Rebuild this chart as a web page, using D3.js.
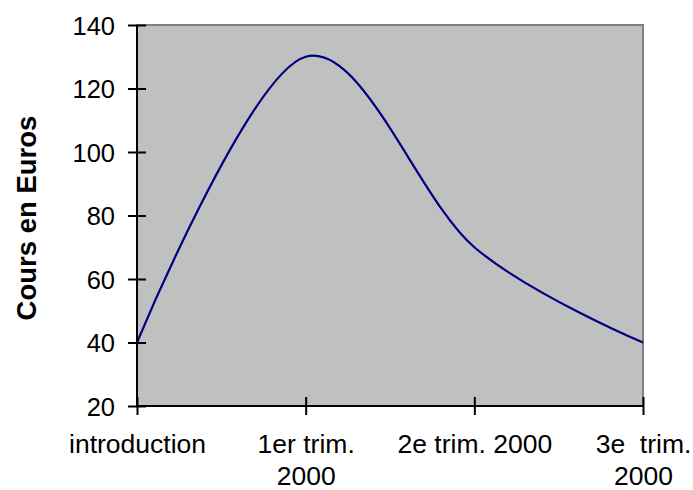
<!DOCTYPE html>
<html><head><meta charset="utf-8">
<script src="https://cdn.jsdelivr.net/npm/d3@7"></script>
<style>body{margin:0;background:#fff}svg{display:block}text{font-family:"Liberation Sans",Arial,sans-serif}</style>
</head><body>
<script>
const categories = [["introduction"], ["1er trim.", "2000"], ["2e trim. 2000"], ["3e  trim.", "2000"]];
const values = [40, 130, 70, 40];
const yTicks = [20, 40, 60, 80, 100, 120, 140];
const yTitle = "Cours en Euros";

const W = 693, H = 490;
const m = {left: 137, right: 50, top: 25, bottom: 84};
const svg = d3.select("body").append("svg").attr("width", W).attr("height", H);

const x = d3.scalePoint().domain(d3.range(categories.length)).range([m.left, 643]);
const y = d3.scaleLinear().domain([20, 140]).range([406, m.top]);

// plot area
svg.append("rect").attr("x", x.range()[0]).attr("y", y(140))
  .attr("width", x.range()[1] - x.range()[0]).attr("height", y(20) - y(140))
  .attr("fill", "#c0c0c0").attr("stroke", "#808080").attr("stroke-width", 2);

// line
const line = d3.line().x((d, i) => x(i)).y(d => y(d)).curve(d3.curveCatmullRom.alpha(0));
svg.append("path").datum(values).attr("d", line)
  .attr("fill", "none").attr("stroke", "#000080").attr("stroke-width", 2.2);

// y axis
const yAxis = svg.append("g").attr("transform", `translate(${x.range()[0]},0)`)
  .call(d3.axisLeft(y).tickValues(yTicks).tickSize(9).tickPadding(12));
yAxis.selectAll(".tick line").attr("x2", 9).attr("x1", -9).attr("stroke", "#000").attr("stroke-width", 2);
yAxis.select(".domain").attr("stroke", "#000").attr("stroke-width", 2).attr("d", `M0,${y(140)}V${y(20)}`);
yAxis.selectAll(".tick text").attr("font-size", 25.5).attr("fill", "#000").attr("dy", "0.36em").attr("x", -22)
  .style("font-family", '"Liberation Sans", Arial, sans-serif');

// x axis
const xAxis = svg.append("g").attr("transform", `translate(0,${y(20)})`)
  .call(d3.axisBottom(x).tickSize(9).tickFormat(""));
xAxis.selectAll(".tick line").attr("y1", -9).attr("y2", 9).attr("stroke", "#000").attr("stroke-width", 2);
xAxis.select(".domain").attr("stroke", "#000").attr("stroke-width", 2).attr("d", `M${x.range()[0]},0H${x.range()[1]}`);
xAxis.selectAll(".tick").each(function(d) {
  const t = d3.select(this).append("text").attr("text-anchor", "middle").attr("font-size", 26.5)
    .attr("fill", "#000").style("white-space", "pre").style("font-family", '"Liberation Sans", Arial, sans-serif');
  categories[d].forEach((s, j) => t.append("tspan").attr("x", 0).attr("y", 47 + j * 32).text(s));
});

// y title
svg.append("text").attr("transform", `translate(36,218) rotate(-90)`)
  .attr("text-anchor", "middle").attr("font-size", 27.5).attr("font-weight", "bold").text(yTitle);
</script>
</body></html>
